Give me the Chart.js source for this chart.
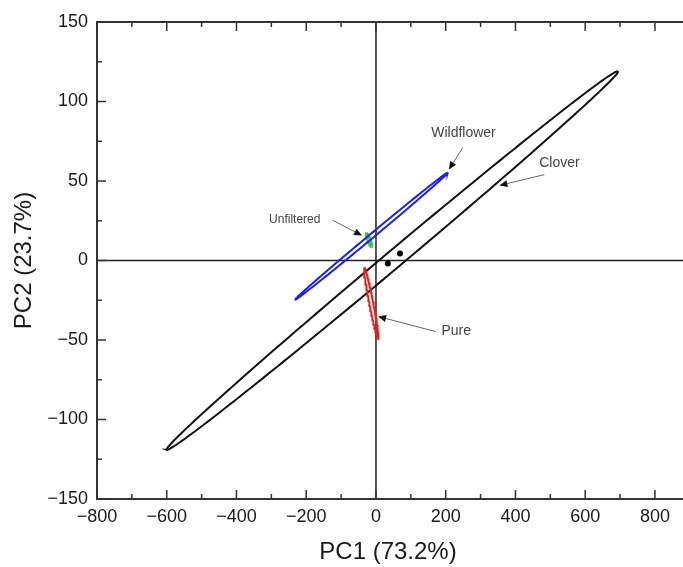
<!DOCTYPE html>
<html>
<head>
<meta charset="utf-8">
<script src="https://cdn.jsdelivr.net/npm/chart.js@4/dist/chart.umd.min.js"></script>
<style>
  html, body { margin: 0; padding: 0; background: #fff; overflow: hidden; }
  #wrap { width: 683px; height: 567px; position: relative; }
</style>
</head>
<body>
<div id="wrap"><canvas id="pca-chart"></canvas></div>
<script>
// Ejes y marcas
const xTickValues = [-800, -600, -400, -200, 0, 200, 400, 600, 800];
const xMinorTicks = [-700, -500, -300, -100, 100, 300, 500, 700];
const yTickValues = [-150, -100, -50, 0, 50, 100, 150];
const yMinorTicks = [-125, -75, -25, 25, 75, 125];
const xTitle = 'PC1 (73.2%)';
const yTitle = 'PC2 (23.7%)';

// Elipses de confianza: centro, semieje mayor y semieje menor (unidades de datos)
const ellipseNames   = ['Clover', 'Unfiltered', 'Pure', 'Wildflower'];
const ellipseCenterX = [47, -20, -13.4, -12.5];
const ellipseCenterY = [0, 13, -26.8, 15.4];
const ellipseMajorX  = [647, -7.1, -20, 218.5];
const ellipseMajorY  = [119, 4.4, 22.55, 39.9];
const ellipseMinorX  = [15.9, 5.9, 5.6, 4.0];
const ellipseMinorY  = [-4.2, -0.47, 0.24, -1.06];

// Puntos sueltos (negros)
const dotX = [34, 69];
const dotY = [-1.9, 4.4];

// Etiquetas con flecha: texto, posición del texto, inicio y punta de la flecha
const labelTexts = ['Wildflower', 'Clover', 'Unfiltered', 'Pure'];
const labelX     = [251, 526, -233, 230];
const labelY     = [80, 61, 25.8, -44.3];
const arrowFromX = [249, 483, -123, 171];
const arrowFromY = [71, 54, 25.2, -44.7];
const arrowToX   = [209, 354, -40, 6];
const arrowToY   = [57.2, 47.2, 15.7, -35.2];

const ellipseColors = ['#111111', '#3cc83c', '#d9261c', '#1c22e0'];
const labelSizes = [14, 14, 12, 14];
const FONT = '"Liberation Sans", Arial, Helvetica, sans-serif';

function ellipsePoints(i) {
    const pts = [];
    const n = 180;
    for (let k = 0; k <= n; k++) {
        const t = (k / n) * Math.PI * 2;
        pts.push({
            x: ellipseCenterX[i] + ellipseMajorX[i] * Math.cos(t) + ellipseMinorX[i] * Math.sin(t),
            y: ellipseCenterY[i] + ellipseMajorY[i] * Math.cos(t) + ellipseMinorY[i] * Math.sin(t)
        });
    }
    return pts;
}

const minus = v => String(v).replace('-', '\u2212');

// Plugin: marco, marcas hacia dentro, líneas de cero y flechas
const overlayPlugin = {
    id: 'pcaOverlay',
    beforeDatasetsDraw(chart) {
        const {ctx, chartArea: a, scales: {x, y}} = chart;
        ctx.save();
        ctx.strokeStyle = '#222';
        ctx.lineWidth = 1.5;
        ctx.beginPath();
        const x0 = x.getPixelForValue(0);
        const y0 = y.getPixelForValue(0);
        ctx.moveTo(x0, a.top); ctx.lineTo(x0, a.bottom);
        ctx.moveTo(a.left, y0); ctx.lineTo(chart.width, y0);
        ctx.stroke();
        ctx.restore();
    },
    afterDatasetsDraw(chart) {
        const {ctx, scales: {x, y}} = chart;
        ctx.save();
        labelTexts.forEach((txt, i) => {
            const fx = x.getPixelForValue(arrowFromX[i]);
            const fy = y.getPixelForValue(arrowFromY[i]);
            const tx = x.getPixelForValue(arrowToX[i]);
            const ty = y.getPixelForValue(arrowToY[i]);
            const ang = Math.atan2(ty - fy, tx - fx);
            const head = 8, half = 3.5;
            const bx = tx - head * Math.cos(ang);
            const by = ty - head * Math.sin(ang);
            ctx.strokeStyle = '#666';
            ctx.lineWidth = 1;
            ctx.beginPath();
            ctx.moveTo(fx, fy);
            ctx.lineTo(bx, by);
            ctx.stroke();
            ctx.fillStyle = '#111';
            ctx.beginPath();
            ctx.moveTo(tx, ty);
            ctx.lineTo(bx + half * Math.sin(ang), by - half * Math.cos(ang));
            ctx.lineTo(bx - half * Math.sin(ang), by + half * Math.cos(ang));
            ctx.closePath();
            ctx.fill();

            ctx.fillStyle = '#444';
            ctx.font = labelSizes[i] + 'px ' + FONT;
            ctx.textAlign = 'center';
            ctx.textBaseline = 'middle';
            ctx.fillText(txt, x.getPixelForValue(labelX[i]), y.getPixelForValue(labelY[i]));
        });
        ctx.restore();
    },
    afterDraw(chart) {
        const {ctx, chartArea: a, scales: {x, y}} = chart;
        ctx.save();
        ctx.strokeStyle = '#333';
        ctx.lineWidth = 2;
        ctx.beginPath();
        ctx.moveTo(chart.width, a.top); ctx.lineTo(a.left, a.top);
        ctx.lineTo(a.left, a.bottom); ctx.lineTo(chart.width, a.bottom);
        ctx.stroke();

        ctx.lineWidth = 1.5;
        ctx.beginPath();
        const tickX = (v, len) => {
            const p = x.getPixelForValue(v);
            ctx.moveTo(p, a.bottom); ctx.lineTo(p, a.bottom - len);
            ctx.moveTo(p, a.top); ctx.lineTo(p, a.top + len);
        };
        const tickY = (v, len) => {
            const p = y.getPixelForValue(v);
            ctx.moveTo(a.left, p); ctx.lineTo(a.left + len, p);
        };
        xTickValues.forEach(v => tickX(v, 9));
        xMinorTicks.forEach(v => tickX(v, 5));
        yTickValues.forEach(v => tickY(v, 9));
        yMinorTicks.forEach(v => tickY(v, 5));
        ctx.stroke();
        ctx.restore();
    }
};

const datasets = ellipseNames.map((name, i) => ({
    label: name,
    data: ellipsePoints(i),
    showLine: true,
    borderColor: ellipseColors[i],
    backgroundColor: ellipseColors[i],
    borderWidth: 2,
    pointRadius: 0,
    tension: 0,
    fill: false,
    order: ellipseNames.length - i + 1
}));
datasets.push({
    label: 'Clover points',
    data: dotX.map((v, i) => ({x: v, y: dotY[i]})),
    pointRadius: 3,
    pointBackgroundColor: '#000',
    pointBorderWidth: 0,
    showLine: false,
    order: 0
});

const ctx = document.getElementById('pca-chart').getContext('2d');
new Chart(ctx, {
    type: 'scatter',
    data: { datasets },
    options: {
        responsive: true,
        maintainAspectRatio: false,
        animation: false,
        layout: { padding: { top: 22, right: 0, bottom: 0, left: 0 } },
        plugins: {
            legend: { display: false },
            tooltip: { enabled: false }
        },
        scales: {
            x: {
                type: 'linear',
                min: -800,
                max: 869,
                afterBuildTicks: s => { s.ticks = xTickValues.map(v => ({value: v})); },
                afterFit: s => { s.height = 68; },
                grid: { display: false, drawTicks: false },
                border: { display: false },
                ticks: {
                    padding: 7,
                    color: '#1a1a1a',
                    font: { family: FONT, size: 18 },
                    maxRotation: 0,
                    autoSkip: false,
                    callback: v => minus(v)
                },
                title: {
                    display: true,
                    text: xTitle,
                    color: '#1a1a1a',
                    font: { family: FONT, size: 24 },
                    padding: { top: 0, bottom: 0 }
                }
            },
            y: {
                type: 'linear',
                min: -150,
                max: 150,
                afterBuildTicks: s => { s.ticks = yTickValues.map(v => ({value: v})); },
                afterFit: s => { s.width = 97; },
                grid: { display: false, drawTicks: false },
                border: { display: false },
                ticks: {
                    padding: 9,
                    color: '#1a1a1a',
                    font: { family: FONT, size: 18 },
                    autoSkip: false,
                    callback: v => minus(v)
                },
                title: {
                    display: true,
                    text: yTitle,
                    color: '#1a1a1a',
                    font: { family: FONT, size: 24 },
                    padding: { top: 10, bottom: 0 }
                }
            }
        }
    },
    plugins: [overlayPlugin]
});
</script>
</body>
</html>
